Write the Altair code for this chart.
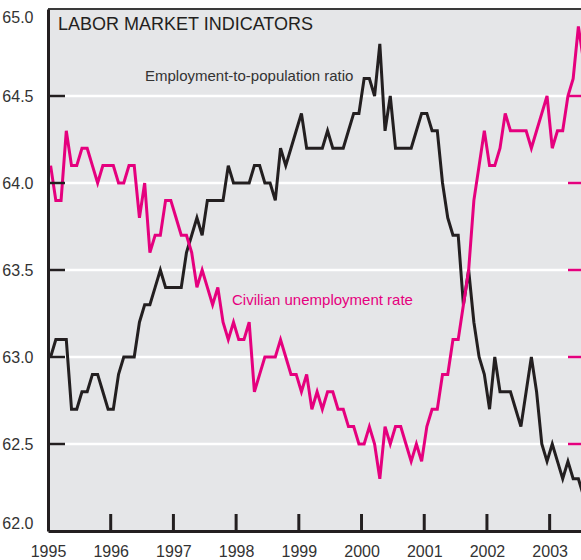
import altair as alt
import pandas as pd

# ---- data (monthly, Jan 1995 - Jul 2003) ----
emp_ratio = [
    63.0, 63.1, 63.1, 63.1, 62.7, 62.7, 62.8, 62.8, 62.9, 62.9, 62.8, 62.7,  # 1995
    62.7, 62.9, 63.0, 63.0, 63.0, 63.2, 63.3, 63.3, 63.4, 63.5, 63.4, 63.4,  # 1996
    63.4, 63.4, 63.6, 63.7, 63.8, 63.7, 63.9, 63.9, 63.9, 63.9, 64.1, 64.0,  # 1997
    64.0, 64.0, 64.0, 64.1, 64.1, 64.0, 64.0, 63.9, 64.2, 64.1, 64.2, 64.3,  # 1998
    64.4, 64.2, 64.2, 64.2, 64.2, 64.3, 64.2, 64.2, 64.2, 64.3, 64.4, 64.4,  # 1999
    64.6, 64.6, 64.5, 64.8, 64.3, 64.5, 64.2, 64.2, 64.2, 64.2, 64.3, 64.4,  # 2000
    64.4, 64.3, 64.3, 64.0, 63.8, 63.7, 63.7, 63.3, 63.5, 63.2, 63.0, 62.9,  # 2001
    62.7, 63.0, 62.8, 62.8, 62.8, 62.7, 62.6, 62.8, 63.0, 62.8, 62.5, 62.4,  # 2002
    62.5, 62.4, 62.3, 62.4, 62.3, 62.3, 62.2,                                # 2003
]
unemp_rate = [
    5.6, 5.4, 5.4, 5.8, 5.6, 5.6, 5.7, 5.7, 5.6, 5.5, 5.6, 5.6,  # 1995
    5.6, 5.5, 5.5, 5.6, 5.6, 5.3, 5.5, 5.1, 5.2, 5.2, 5.4, 5.4,  # 1996
    5.3, 5.2, 5.2, 5.1, 4.9, 5.0, 4.9, 4.8, 4.9, 4.7, 4.6, 4.7,  # 1997
    4.6, 4.6, 4.7, 4.3, 4.4, 4.5, 4.5, 4.5, 4.6, 4.5, 4.4, 4.4,  # 1998
    4.3, 4.4, 4.2, 4.3, 4.2, 4.3, 4.3, 4.2, 4.2, 4.1, 4.1, 4.0,  # 1999
    4.0, 4.1, 4.0, 3.8, 4.1, 4.0, 4.1, 4.1, 4.0, 3.9, 4.0, 3.9,  # 2000
    4.1, 4.2, 4.2, 4.4, 4.4, 4.6, 4.6, 4.8, 5.0, 5.4, 5.6, 5.8,  # 2001
    5.6, 5.6, 5.7, 5.9, 5.8, 5.8, 5.8, 5.8, 5.7, 5.8, 5.9, 6.0,  # 2002
    5.7, 5.8, 5.8, 6.0, 6.1, 6.4, 6.2,                           # 2003
]
year_ticks = [1995, 1996, 1997, 1998, 1999, 2000, 2001, 2002, 2003]
ratio_ticks = [62.0, 62.5, 63.0, 63.5, 64.0, 64.5, 65.0]
ratio_grid = [62.5, 63.0, 63.5, 64.0, 64.5]
rate_ticks = [4.0, 4.5, 5.0, 5.5, 6.0]

title_text = "LABOR MARKET INDICATORS"
emp_label = "Employment-to-population ratio"
unemp_label = "Civilian unemployment rate"

# ---- tables ----
t = [1995 + (i + 0.5) / 12 for i in range(len(emp_ratio))]
df = pd.DataFrame({"t": t, "ratio": emp_ratio, "rate": unemp_rate})
grid_df = pd.DataFrame({"ratio": ratio_grid})
rate_tick_df = pd.DataFrame({"rate": rate_ticks})
year_tick_df = pd.DataFrame({"year": year_ticks[1:]})

W, H = 533, 522
FONT = "Liberation Sans, Arial, sans-serif"
MAG = "#e5007e"
BLK = "#231f20"
TXT = "#333333"

xs = alt.Scale(domain=[1995, 2003.5], nice=False, zero=False)
ys = alt.Scale(domain=[62.0, 65.0], nice=False, zero=False)
rs = alt.Scale(domain=[3.5, 6.5], nice=False, zero=False)

x_axis = alt.Axis(values=year_ticks, format="d", title=None, grid=False, ticks=False,
                  tickSize=0, domainColor=BLK, domainWidth=3, labelFont=FONT,
                  labelFontSize=16, labelColor=TXT, labelPadding=12, labelFlush=False,
                  labelOverlap=False, zindex=1)
y_axis = alt.Axis(values=ratio_ticks, format=".1f", title=None, grid=False, ticks=False,
                  tickSize=0, domainColor=BLK, domainWidth=3, labelFont=FONT,
                  labelFontSize=16, labelColor=TXT, labelPadding=15, labelFlush=True,
                  labelOverlap=False, zindex=1)

grid = alt.Chart(grid_df).mark_rule(color="white", strokeWidth=2.5).encode(
    y=alt.Y("ratio:Q", scale=ys, axis=None)
)

emp_line = alt.Chart(df).mark_line(color=BLK, strokeWidth=3, clip=True).encode(
    x=alt.X("t:Q", scale=xs, axis=x_axis),
    y=alt.Y("ratio:Q", scale=ys, axis=y_axis),
)

unemp_line = alt.Chart(df).mark_line(color=MAG, strokeWidth=3, clip=True).encode(
    x=alt.X("t:Q", scale=xs),
    y=alt.Y("rate:Q", scale=rs, axis=None),
)

left_ticks = alt.Chart(grid_df).mark_rule(color=BLK, strokeWidth=2.5).encode(
    y=alt.Y("ratio:Q", scale=ys, axis=None),
    x=alt.value(0), x2=alt.value(17),
)

right_ticks = alt.Chart(rate_tick_df).mark_rule(color=MAG, strokeWidth=2.5).encode(
    y=alt.Y("rate:Q", scale=rs, axis=None),
    x=alt.value(W - 13), x2=alt.value(W),
)

bottom_ticks = alt.Chart(year_tick_df).mark_rule(color=BLK, strokeWidth=3).encode(
    x=alt.X("year:Q", scale=xs),
    y=alt.value(H - 17), y2=alt.value(H),
)

top_border = alt.Chart(grid_df).mark_rule(color="#3a3a3a", strokeWidth=2).encode(
    x=alt.value(0), x2=alt.value(W), y=alt.value(0)
)

title = alt.Chart(grid_df.head(1)).mark_text(
    text=title_text, font=FONT, fontSize=18, color=BLK,
    align="left", baseline="alphabetic"
).encode(x=alt.value(10), y=alt.value(21))

emp_text = alt.Chart(grid_df.head(1)).mark_text(
    text=emp_label, font=FONT, fontSize=15, color=TXT,
    align="left", baseline="alphabetic"
).encode(x=alt.value(97), y=alt.value(72))

unemp_text = alt.Chart(grid_df.head(1)).mark_text(
    text=unemp_label, font=FONT, fontSize=15, color=MAG,
    align="left", baseline="alphabetic"
).encode(x=alt.value(184), y=alt.value(296))

chart = alt.layer(
    grid, emp_line, unemp_line, left_ticks, right_ticks, bottom_ticks,
    top_border, title, emp_text, unemp_text
).resolve_scale(y="independent").properties(
    width=W, height=H,
    autosize=alt.AutoSizeParams(type="none"),
    padding={"left": 48, "top": 9, "right": 0, "bottom": 29},
    background="white",
).configure_view(stroke=None, fill="#e5e6e8")

chart.save("out.html", embed_options={"renderer": "svg", "actions": False})
